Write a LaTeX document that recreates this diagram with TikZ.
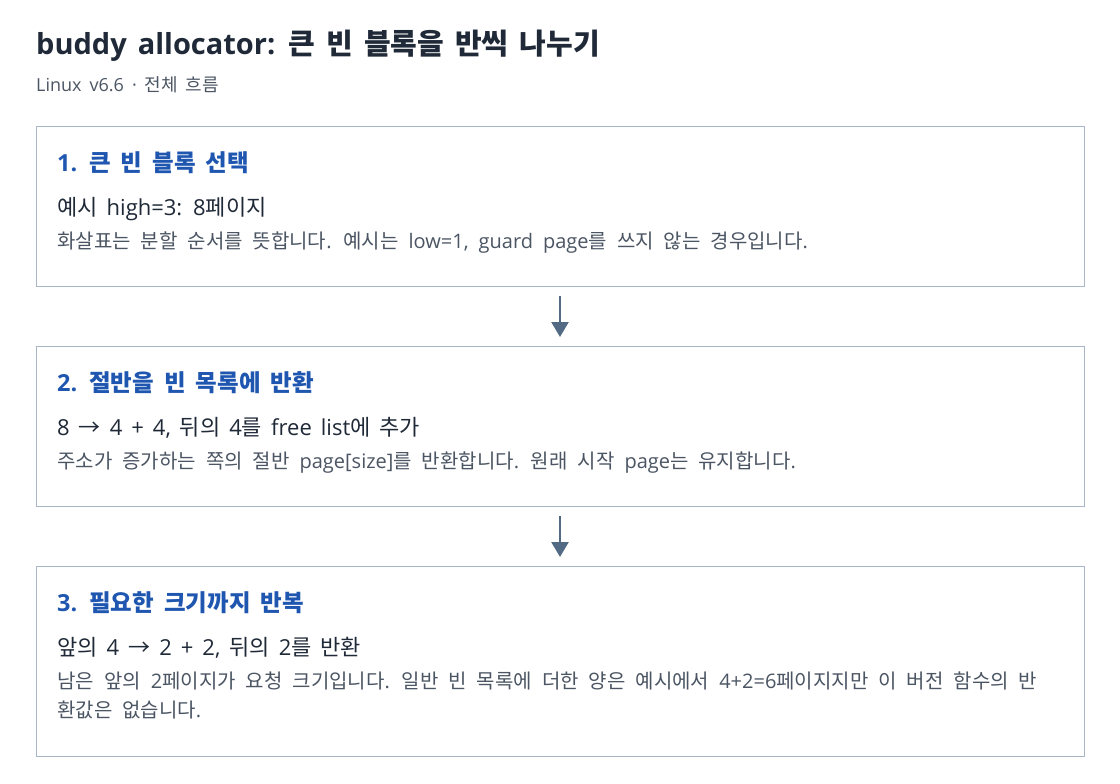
\documentclass[tikz,border=0pt]{standalone}
\usepackage{fontspec}
\setmainfont{Open Sans}
\newfontfamily\latfont{Open Sans}
\newfontfamily\krfont{Noto Sans CJK KR}
\usetikzlibrary{arrows.meta,calc}

% Hangul runs in Noto Sans CJK KR, the rest in Open Sans
\XeTeXinterchartokenstate=1
\newXeTeXintercharclass\krclass
\newcount\hangulchar
\hangulchar="AC00
\loop
  \XeTeXcharclass\hangulchar=\krclass
  \advance\hangulchar by 1
\ifnum\hangulchar<"D7A4 \repeat
\XeTeXcharclass"2192=\krclass
\XeTeXinterchartoks 0 \krclass = {\krfont}
\XeTeXinterchartoks 4095 \krclass = {\krfont}
\XeTeXinterchartoks \krclass 0 = {\latfont}
\XeTeXinterchartoks \krclass 4095 = {\latfont}

\definecolor{inkdark}{HTML}{1F2937}
\definecolor{inkgray}{HTML}{4B5563}
\definecolor{inkblue}{HTML}{1E56B0}
\definecolor{boxline}{HTML}{A9B6C6}
\definecolor{arrowc}{HTML}{536A84}

\tikzset{
  stepbox/.style={draw=boxline, line width=1pt, fill=white, minimum width=1048pt, inner sep=0pt, outer sep=0pt},
  steptitle/.style={anchor=base west, inner sep=0pt, text=inkblue, font={\fontsize{23.5}{27}\selectfont\bfseries\spaceskip 10pt\relax}},
  stepmain/.style={anchor=base west, inner sep=0pt, text=inkdark, font={\fontsize{22}{26}\selectfont\spaceskip 9pt\relax}},
  stepnote/.style={anchor=base west, inner sep=0pt, text=inkgray, font={\fontsize{20}{24}\selectfont\spaceskip 10pt\relax}},
  flow/.style={draw=arrowc, line width=2.5pt, -{Triangle[length=15pt,width=17pt]}, shorten <=10pt, shorten >=9pt}
}

\begin{document}
\begin{tikzpicture}[x=1pt, y=-1pt]
\useasboundingbox (0,0) rectangle (1120,784);

\node [anchor=base west, inner sep=0pt, text=inkdark, font={\fontsize{29}{33}\selectfont\bfseries\spaceskip 11pt\relax}] (title) at (36,55) {buddy allocator: 큰 빈 블록을 반씩 나누기};
\node [anchor=base west, inner sep=0pt, text=inkgray, font={\fontsize{18}{22}\selectfont\spaceskip 8pt\relax}] (subtitle) at (36,92) {Linux v6.6 · 전체 흐름};

\node [stepbox, minimum height=160pt] (b1) at (560,206) {};
\node [stepbox, minimum height=160pt] (b2) at (560,426) {};
\node [stepbox, minimum height=190pt] (b3) at (560,661) {};

\node [steptitle] (t1) at ($(b1.north west)+(21,45)$) {1. 큰 빈 블록 선택};
\node [stepmain] (m1) at ($(b1.north west)+(21,89)$) {예시 high=3: 8페이지};
\node [stepnote] (n1) at ($(b1.north west)+(21,122)$) {화살표는 분할 순서를 뜻합니다. 예시는 low=1, guard page를 쓰지 않는 경우입니다.};

\node [steptitle] (t2) at ($(b2.north west)+(21,45)$) {2. 절반을 빈 목록에 반환};
\node [stepmain] (m2) at ($(b2.north west)+(21,89)$) {8 → 4 + 4, 뒤의 4를 free list에 추가};
\node [stepnote] (n2) at ($(b2.north west)+(21,122)$) {주소가 증가하는 쪽의 절반 page[size]를 반환합니다. 원래 시작 page는 유지합니다.};

\node [steptitle] (t3) at ($(b3.north west)+(21,45)$) {3. 필요한 크기까지 반복};
\node [stepmain] (m3) at ($(b3.north west)+(21,89)$) {앞의 4 → 2 + 2, 뒤의 2를 반환};
\node [stepnote] (n3a) at ($(b3.north west)+(21,122)$) {남은 앞의 2페이지가 요청 크기입니다. 일반 빈 목록에 더한 양은 예시에서 4+2=6페이지지만 이 버전 함수의 반};
\node [stepnote] (n3b) at ($(b3.north west)+(21,151)$) {환값은 없습니다.};

\draw [flow] (b1.south) -- (b2.north);
\draw [flow] (b2.south) -- (b3.north);
\end{tikzpicture}
\end{document}
